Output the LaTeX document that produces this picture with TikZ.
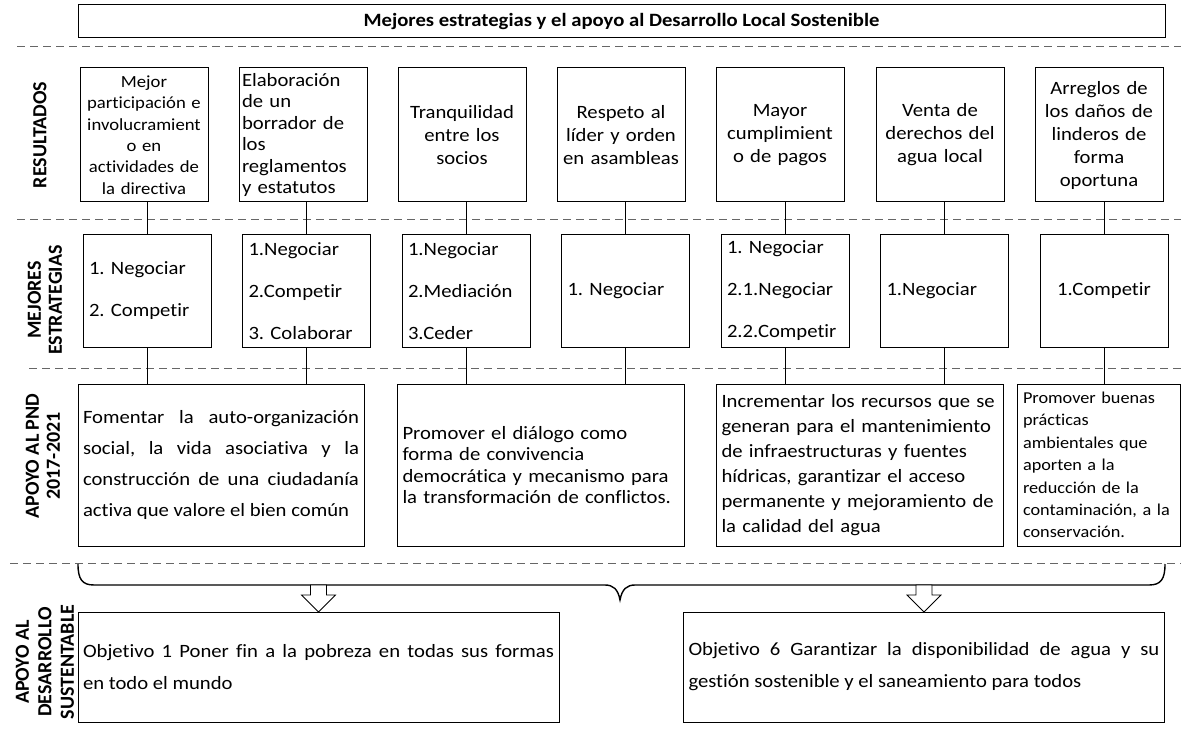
\documentclass[tikz,border=0pt]{standalone}
\usepackage{fontspec}
\setmainfont{Carlito}[FakeStretch=1.1, Ligatures=NoCommon]
\newfontfamily\lanefont{Carlito}[Ligatures=NoCommon]
\begin{document}
\frenchspacing
\begin{tikzpicture}[x=1pt,y=-1pt,
  box/.style={draw=black, line width=1pt, inner sep=0pt, outer sep=0pt},
  res/.style={box, minimum width=128pt, minimum height=134pt, text width=122pt, inner xsep=3pt, align=center, font=\fontsize{18.8}{23}\selectfont},
  est/.style={box, minimum width=128pt, minimum height=112pt, text width=116pt, inner xsep=6pt, align=left, font=\fontsize{18.8}{42}\selectfont},
  pnd/.style={box, minimum height=162pt, align=left},
  ods/.style={box, minimum height=110pt, text width=471pt, inner xsep=5pt, align=justify, font=\fontsize{18.8}{32}\selectfont},
  lane/.style={rotate=90, align=center, font=\lanefont\fontsize{20}{21}\selectfont\bfseries},
  sep/.style={draw=black!60, line width=1pt, dash pattern=on 8pt off 5pt},
  link/.style={draw=black, line width=0.8pt},
  brace/.style={draw=black, line width=1.4pt},
  hollow/.style={draw=black, line width=0.8pt, fill=white}
]
\useasboundingbox (0,0) rectangle (1181,738);

% title
\node[box, minimum width=1087pt, minimum height=33pt, font=\fontsize{18.8}{20}\selectfont\bfseries] (title) at (621.5,21.5)
  {Mejores estrategias y el apoyo al Desarrollo Local Sostenible};

% row separators
\draw[sep] (17,47) -- (1181,47);
\draw[sep] (17,220) -- (1181,220);
\draw[sep] (29,368) -- (1181,368);
\draw[sep] (10,563) -- (1181,563);

% lane labels
\node[lane] (lres) at (40,135) {RESULTADOS};
\node[lane] (lest) at (45,300) {MEJORES\\ESTRATEGIAS};
\node[lane] (lpnd) at (43,456) {APOYO AL PND\\2017-2021};
\node[lane, font=\lanefont\fontsize{20}{22.5}\selectfont\bfseries] (lods) at (45,662) {APOYO AL\\DESARROLLO\\SUSTENTABLE};

% results
\node[res, font=\fontsize{17}{21.4}\selectfont] (r1) at (144,135) {Mejor\\participación e\\involucramient\\o en\\actividades de\\la directiva};
\node[res, align=left, font=\fontsize{18.8}{21.4}\selectfont] (r2) at (303,135) {Elaboración\\de un\\borrador de\\los\\reglamentos\\y estatutos};
\node[res] (r3) at (462,135) {Tranquilidad\\entre los\\socios};
\node[res] (r4) at (621,135) {Respeto al\\líder y orden\\en asambleas};
\node[res] (r5) at (780,135) {Mayor\\cumplimient\\o de pagos};
\node[res] (r6) at (940,135) {Venta de\\derechos del\\agua local};
\node[res] (r7) at (1099,135) {Arreglos de\\los daños de\\linderos de\\forma\\oportuna};

% strategies
\node[est] (e1) at (147,291) {1. Negociar\\2. Competir};
\node[est] (e2) at (306.5,291) {1.Negociar\\2.Competir\\3. Colaborar};
\node[est] (e3) at (466,291) {1.Negociar\\2.Mediación\\3.Ceder};
\node[est] (e4) at (625.5,291) {1. Negociar};
\node[est] (e5) at (785,291) {1. Negociar\\2.1.Negociar\\2.2.Competir};
\node[est] (e6) at (944.5,291) {1.Negociar};
\node[est, align=center] (e7) at (1104,291) {1.Competir};

% national development plan
\node[pnd, text width=276pt, inner xsep=5pt, align=justify, font=\fontsize{18.8}{31}\selectfont] (p1) at (221,465)
  {Fomentar la auto-organización\linebreak social, la vida asociativa y la\linebreak construcción de una ciudadanía\linebreak activa que valore el bien común};
\node[pnd, text width=276pt, inner xsep=5.5pt, font=\fontsize{18.8}{21.5}\selectfont] (p2) at (540.5,465)
  {Promover el diálogo como\\forma de convivencia\\democrática y mecanismo para\\la transformación de conflictos.};
\node[pnd, text width=276pt, inner xsep=5.5pt, font=\fontsize{18.8}{25}\selectfont] (p3) at (859.5,465)
  {Incrementar los recursos que se\\generan para el mantenimiento\\de infraestructuras y fuentes\\hídricas, garantizar el acceso\\permanente y mejoramiento de\\la calidad del agua};
\node[pnd, text width=159pt, inner xsep=2pt, font=\fontsize{16.6}{22.4}\selectfont] (p4) at (1098.5,465)
  {\hspace*{4pt}Promover buenas\\\hspace*{4pt}prácticas\\\hspace*{4pt}ambientales que\\\hspace*{4pt}aporten a la\\\hspace*{4pt}reducción de la\\\hspace*{4pt}contaminación, a la\\\hspace*{4pt}conservación.};

% sustainable development goals
\node[ods] (o1) at (318.5,667)
  {Objetivo 1 Poner fin a la pobreza en todas sus formas\linebreak en todo el mundo};
\node[ods] (o2) at (924,667)
  {Objetivo 6 Garantizar la disponibilidad de agua y su\linebreak gestión sostenible y el saneamiento para todos};

% links results -> strategies
\foreach \r/\e in {r1/e1,r2/e2,r3/e3,r4/e4,r5/e5,r6/e6,r7/e7}
  \draw[link] (\e.north) -- (\e.north |- \r.south);

% links strategies -> plan
\draw[link] (e1.south) -- (e1.south |- p1.north);
\draw[link] (e2.south) -- (e2.south |- p1.north);
\draw[link] (e3.south) -- (e3.south |- p2.north);
\draw[link] (e4.south) -- (e4.south |- p2.north);
\draw[link] (e5.south) -- (e5.south |- p3.north);
\draw[link] (e6.south) -- (e6.south |- p3.north);
\draw[link] (e7.south) -- (e7.south |- p4.north);

% brace gathering the plan objectives
\coordinate (bl) at (78,564);
\coordinate (br) at (1165,564);
\coordinate (bt) at (620,600);
\draw[brace] (bl) .. controls (78,579) and (82,585) .. (94,585) -- (605,585)
  .. controls (613,585) and (618,589) .. (bt)
  .. controls (622,589) and (627,585) .. (635,585) -- (1149,585)
  .. controls (1161,585) and (1165,579) .. (br);

% hollow arrows down to the goals
\foreach \o in {o1,o2}
  \draw[hollow] ([shift={(-8,-27)}]\o.north) -- ++(16,0) -- ++(0,10) -- ++(9,0)
    -- (\o.north) -- ++(-17,-17) -- ++(9,0) -- cycle;
\end{tikzpicture}
\end{document}
